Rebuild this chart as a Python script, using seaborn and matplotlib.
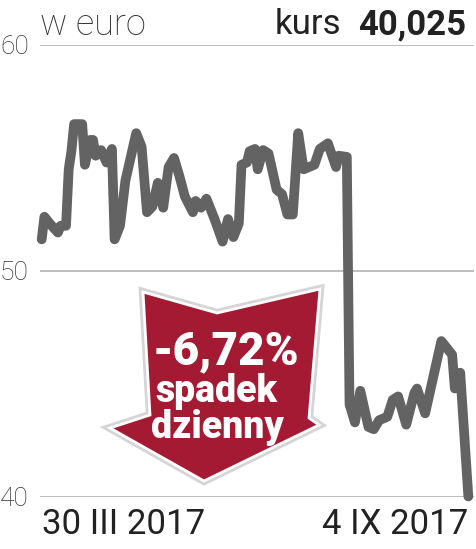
import pandas as pd
import matplotlib.pyplot as plt
import matplotlib.patheffects as pe
from matplotlib.patches import Polygon
import seaborn as sns

# kurs w euro, 30 III 2017 - 4 IX 2017 (dni od startu)
days = [0, 1, 3, 6, 7, 9, 10, 11, 12, 15, 16, 18, 19, 20, 22, 24, 26, 27, 29, 31,
        35, 37, 39, 41, 43, 45, 47, 49, 51, 53, 56, 57, 59, 61, 64, 67, 69, 71, 73, 74,
        76, 77, 79, 80, 82, 84, 87, 89, 91, 93, 95, 97, 101, 103, 106, 109, 110, 113, 114, 116,
        118, 121, 123, 125, 128, 130, 132, 135, 138, 139, 142, 145, 148, 152, 153, 155, 158]
price = [51.4, 52.4, 52.1, 51.7, 52.0, 52.0, 54.5, 55.3, 56.5, 56.5, 54.7, 55.8, 55.8, 55.1, 55.35, 54.8, 55.4, 51.4, 52.0, 54.0,
         56.1, 55.5, 52.6, 52.85, 53.9, 52.8, 54.6, 55.0, 54.2, 53.3, 52.6, 53.1, 52.8, 53.2, 52.3, 51.3, 52.3, 51.5, 52.1, 54.7,
         54.8, 55.3, 55.4, 54.5, 55.35, 55.2, 53.6, 53.4, 52.5, 52.5, 56.1, 54.5, 54.7, 55.4, 55.65, 54.6, 55.1, 55.05, 44.1, 43.3,
         44.7, 43.1, 43.0, 43.4, 43.55, 44.3, 44.45, 43.2, 44.6, 44.8, 43.7, 45.3, 46.9, 46.3, 44.8, 45.5, 40.025]
y_ticks = [40, 50, 60]
x_labels = ["30 III 2017", "4 IX 2017"]

df = pd.DataFrame({"dzien": days, "kurs": price})

sns.set_theme(style="white")
plt.rcParams['font.family'] = ['Roboto', 'DejaVu Sans']

W, H = 476, 549
fig = plt.figure(figsize=(W / 100, H / 100), dpi=100)
ax = fig.add_axes([40 / W, 1 - 497 / H, (474 - 40) / W, (497 - 45) / H])

sns.lineplot(data=df, x="dzien", y="kurs", ax=ax, color="#636363", linewidth=7,
             solid_joinstyle="round", solid_capstyle="round", clip_on=False, zorder=3)

ax.set_ylim(40, 60)
ax.set_xlim(-0.63, 160.1)
ax.set_yticks(y_ticks)
ax.set_yticklabels([str(v) for v in y_ticks], fontsize=19, color="#333333", fontweight="light")
ax.set_xticks([days[0], days[-1]])
ax.set_xticklabels(x_labels, fontsize=25, color="#222222")
xl = ax.get_xticklabels()
xl[0].set_ha("left")
xl[1].set_ha("right")
ax.tick_params(axis="y", length=0, pad=8)
ax.tick_params(axis="x", length=0, pad=8)
ax.yaxis.grid(True, color="#bdbdbd", linewidth=1.4)
ax.set_axisbelow(True)
for s in ax.spines.values():
    s.set_visible(False)
ax.set_xlabel("")
ax.set_ylabel("")
ax.patch.set_alpha(0)

# naglowek
fig.text(40 / W, 1 - 25 / H, "w euro", fontsize=26, color="#333333", fontweight="light",
         ha="left", va="center")
fig.text(466 / W, 1 - 25 / H, "40,025", fontsize=25, color="#222222", fontweight="bold",
         ha="right", va="center")
fig.text(341 / W, 1 - 25 / H, "kurs", fontsize=25, color="#222222",
         ha="right", va="center")

# strzalka
arrow_px = [(143, 292), (217, 313), (320, 289), (309, 418), (319, 425),
            (204, 481), (110, 428), (150, 415)]
arrow = Polygon([(x / W, 1 - y / H) for x, y in arrow_px], closed=True,
                transform=fig.transFigure, facecolor="#a31a32", edgecolor="white",
                linewidth=2, zorder=5)
arrow.set_path_effects([pe.withStroke(linewidth=6, foreground="#d5d5d5")])
fig.patches.append(arrow)

fig.text(226 / W, 1 - 351 / H, "-6,72%", fontsize=33, color="white", fontweight="heavy",
         ha="center", va="center", zorder=6)
fig.text(216 / W, 1 - 392 / H, "spadek", fontsize=27, color="white", fontweight="heavy",
         ha="center", va="center", zorder=6)
fig.text(217 / W, 1 - 428 / H, "dzienny", fontsize=27, color="white", fontweight="heavy",
         ha="center", va="center", zorder=6)

fig.savefig("out.png", dpi=100)
